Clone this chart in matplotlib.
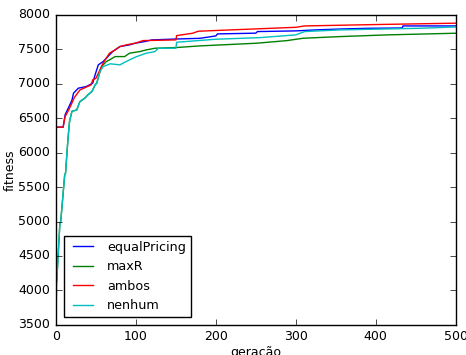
import matplotlib
matplotlib.use('Agg')
import matplotlib.pyplot as plt

# (generation, fitness) breakpoints
eq_gen = [0, 9, 11.5, 16, 20, 22, 28, 38, 46, 49, 53, 59, 65, 71, 80, 92, 99, 111, 120,
          150, 180, 200, 202, 250, 252, 300, 324, 355, 392, 433, 434, 500]
eq_fit = [6370, 6370, 6550, 6660, 6760, 6863, 6936, 6960, 7008, 7130, 7275, 7322, 7395,
          7468, 7540, 7565, 7589, 7613, 7637, 7650, 7660, 7695, 7724, 7735, 7758, 7768,
          7782, 7795, 7806, 7810, 7840, 7840]

maxr_gen = [0, 1, 5, 6, 11, 12, 15, 17, 20, 26, 30, 36, 40, 45, 49, 51, 57, 63, 67, 74,
            86, 92, 105, 113, 124, 150, 180, 251, 289, 309, 355, 414, 500]
maxr_fit = [4100, 4130, 4980, 5000, 5680, 5700, 6190, 6450, 6600, 6620, 6742, 6790, 6840,
            6887, 6984, 7008, 7250, 7322, 7347, 7395, 7395, 7444, 7468, 7492, 7516, 7526,
            7550, 7589, 7627, 7661, 7685, 7710, 7734]

ambos_gen = [0, 9, 11.5, 16, 20, 23, 30, 44, 46, 50, 53, 59, 67, 74, 80, 88, 99, 109,
             150, 151, 171, 178, 218, 300, 311, 400, 500]
ambos_fit = [6370, 6370, 6524, 6620, 6720, 6800, 6910, 6984, 7056, 7080, 7153, 7300, 7444,
             7492, 7540, 7565, 7589, 7627, 7637, 7700, 7734, 7763, 7782, 7820, 7840, 7860,
             7880]

nenhum_gen = [0, 1, 5, 6, 11, 12, 15, 17, 20, 26, 30, 36, 40, 45, 49, 51, 55, 59, 68, 80,
              84, 92, 101, 113, 124, 128, 150, 151, 200, 255, 300, 311, 355, 455, 500]
nenhum_fit = [3560, 4130, 4980, 5000, 5680, 5700, 6190, 6450, 6600, 6620, 6742, 6790, 6840,
              6887, 6984, 7008, 7177, 7250, 7290, 7275, 7300, 7347, 7395, 7444, 7468, 7516,
              7516, 7603, 7647, 7670, 7710, 7758, 7782, 7806, 7825]

plt.style.use('classic')
plt.rcParams['font.size'] = 9

fig = plt.figure(figsize=(4.66, 3.55), dpi=100)
ax = fig.add_axes([0.120, 0.085, 0.858, 0.873])

ax.plot(eq_gen, eq_fit, color='b', label='equalPricing')
ax.plot(maxr_gen, maxr_fit, color='g', label='maxR')
ax.plot(ambos_gen, ambos_fit, color='r', label='ambos')
ax.plot(nenhum_gen, nenhum_fit, color='c', label='nenhum')

ax.set_xlim(0, 500)
ax.set_ylim(3500, 8000)
ax.set_xlabel('geração', labelpad=2)
ax.set_ylabel('fitness', labelpad=1)
ax.legend(loc='lower left', fontsize=9.2, borderaxespad=0.6, handlelength=2.2)

fig.savefig('out.png', dpi=100)
print('Saved out.png')
